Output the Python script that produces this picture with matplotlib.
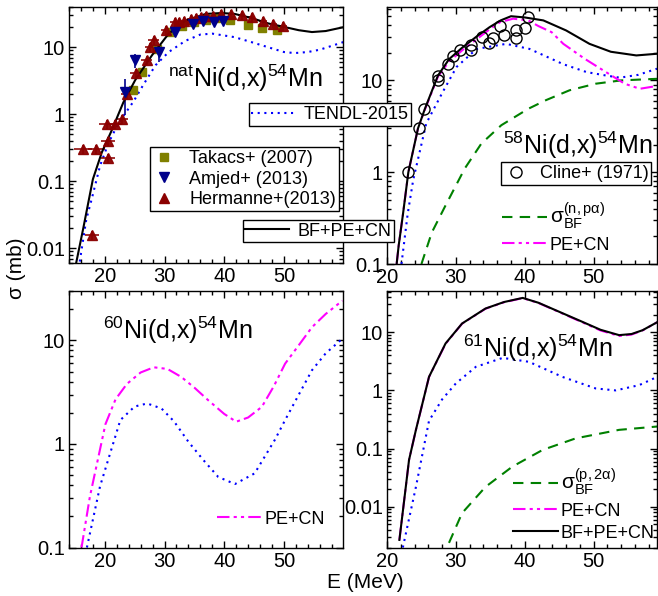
import matplotlib
matplotlib.use("Agg")
import matplotlib.pyplot as plt
from matplotlib.lines import Line2D
from matplotlib.ticker import LogLocator, MultipleLocator, FuncFormatter, NullFormatter

plt.rcParams['font.family'] = ['Liberation Sans', 'DejaVu Sans']
plt.rcParams['mathtext.fontset'] = 'custom'
plt.rcParams['mathtext.rm'] = 'Liberation Sans'
plt.rcParams['mathtext.it'] = 'Liberation Sans:italic'
plt.rcParams['mathtext.bf'] = 'Liberation Sans:bold'

# ---------------- data: natNi(d,x)54Mn ----------------
nat_bf_E = [15.2, 16.4, 18.0, 19.5, 21.1, 23.1, 25.1, 27.9, 30.7, 33.5, 36.9, 39.5, 41.7, 44.5, 47.4, 50.2, 52.5, 54.7, 57.0, 60.0]
nat_bf_y = [0.006, 0.02, 0.107, 0.27, 0.56, 1.5, 3.25, 7.6, 16, 25, 31.5, 32.5, 31.6, 27.5, 22.7, 20, 18, 16.9, 17.5, 20]
nat_tendl_E = [15.8, 16.9, 17.8, 19.2, 20.6, 22.3, 24.8, 26.5, 28.5, 30.7, 33.5, 36.0, 38.0, 41.7, 44.5, 47.4, 50.0, 51.8, 54.0, 56.0, 58.0, 60.0]
nat_tendl_y = [0.0063, 0.027, 0.054, 0.17, 0.37, 0.74, 1.55, 2.8, 5.4, 8.5, 12.5, 15.5, 16, 14.2, 12, 10, 8.5, 8.2, 8.5, 9.2, 10.5, 12]

takacs_E = [24.8, 26.3, 28.7, 31.0, 33.0, 35.0, 37.0, 39.0, 41.0, 44.0, 46.3, 48.8]
takacs_y = [2.3, 4.3, 9.5, 17, 21, 24, 26, 27, 25.5, 21.2, 19.3, 17.9]

amjed_E = [23.4, 25.1, 29.0, 31.8, 34.7, 36.5, 38.3, 39.8]
amjed_y = [2.18, 6.4, 8.5, 16.9, 22.6, 25, 23.7, 25]
amjed_dy = [1.2, 1.5, 2.5, 1.5, 2.0, 2.0, 2.0, 2.0]

herm_E = [16.4, 18.6, 17.8, 20.5, 20.5, 20.3, 21.7, 22.8, 23.7, 25.3, 27.0, 27.6, 28.2, 30.2, 31.8, 32.5, 33.3, 34.5, 35.2, 36.1, 37.0, 38.2, 39.5, 41.2, 42.9, 44.6, 46.5, 48.2, 49.9]
herm_y = [0.30, 0.30, 0.0155, 0.22, 0.40, 0.72, 0.72, 0.85, 2.0, 4.1, 6.4, 10.0, 12.7, 17.9, 23.7, 24, 25, 26.5, 27, 28, 29, 29.5, 31, 31.5, 30.5, 28, 25, 22.5, 20.7]
herm_dE = [1.5, 1.5, 1.2, 1.2, 1.2, 1.2, 1.2, 1.0, 1.0, 1.0, 0.9, 0.9, 0.9, 0.8, 0.8, 0.8, 0.8, 0.7, 0.7, 0.7, 0.7, 0.7, 0.7, 0.6, 0.6, 0.6, 0.6, 0.6, 0.6]

# ---------------- data: 58Ni(d,x)54Mn ----------------
n58_bf_E = [21.4, 21.7, 22.3, 23.1, 24.5, 25.5, 27.4, 29.0, 31.0, 33.0, 34.9, 36.5, 38.0, 40.0, 42.7, 46.0, 49.4, 52.5, 56.2, 59.2]
n58_bf_y = [0.1, 0.16, 0.34, 1.0, 3.0, 4.9, 11.3, 17, 23, 30, 38, 45, 50, 48.5, 45, 35, 25, 20.5, 18.7, 19.5]
n58_pe_E = [21.4, 21.7, 22.3, 23.1, 24.5, 25.5, 27.4, 29.0, 31.0, 33.0, 34.9, 36.4, 38.3, 40.5, 42.0, 43.9, 45.6, 48.7, 51.8, 54.5, 56.7, 59.2]
n58_pe_y = [0.1, 0.16, 0.34, 1.0, 3.0, 4.8, 11.0, 16, 21.5, 28, 36, 43, 47, 45, 39, 33.5, 25, 17.2, 12.3, 9.2, 8.1, 8.7]
n58_tendl_E = [22.1, 23.0, 23.8, 25.7, 28.1, 30.1, 33.0, 37.3, 40.7, 45.6, 49.0, 51.8, 53.8, 56.5, 59.2]
n58_tendl_y = [0.1, 0.35, 0.82, 3.4, 7.5, 14, 22, 25, 22, 15, 12.3, 11.3, 10.7, 11.5, 13.4]
n58_npa_E = [25.0, 26.5, 28.4, 31.3, 33.7, 36.6, 40.5, 43.1, 46.5, 50.3, 54.0, 59.2]
n58_npa_y = [0.1, 0.22, 0.42, 1.1, 2.05, 3.25, 4.9, 6.1, 7.8, 9.2, 10.0, 10.4]
cline_E = [23.1, 24.7, 25.4, 27.4, 27.4, 28.9, 29.6, 30.6, 32.2, 32.2, 33.8, 34.8, 35.4, 36.4, 37.0, 38.7, 38.7, 40.1, 40.4]
cline_y = [1.0, 3.0, 4.9, 11.3, 10.0, 15.2, 18.4, 21.2, 24.5, 21.2, 29.6, 25.6, 28.8, 39.6, 31.6, 35, 28.8, 37, 48.8]

# ---------------- data: 60Ni(d,x)54Mn ----------------
n60_pe_E = [16.1, 17.5, 20.1, 21.8, 23.7, 26.0, 28.2, 30.5, 32.8, 35.0, 37.3, 40.0, 42.0, 44.0, 46.3, 48.3, 50.2, 52.5, 54.7, 57.0, 59.8]
n60_pe_y = [0.1, 0.31, 1.55, 2.7, 3.8, 4.9, 5.5, 5.3, 4.44, 3.5, 2.65, 1.95, 1.64, 1.8, 2.28, 3.6, 5.96, 9.0, 13.4, 18, 24.2]
n60_tendl_E = [17.0, 19.2, 22.6, 25.0, 27.1, 29.5, 31.6, 34.0, 36.5, 39.0, 41.8, 45.1, 48.5, 50.2, 52.5, 54.7, 57.0, 59.8]
n60_tendl_y = [0.1, 0.39, 1.7, 2.3, 2.46, 2.2, 1.65, 1.05, 0.7, 0.48, 0.41, 0.52, 1.1, 1.7, 3.0, 5.15, 7.5, 10.4]

# ---------------- data: 61Ni(d,x)54Mn ----------------
n61_bf_E = [21.8, 23.2, 24.2, 26.1, 28.5, 30.9, 34.3, 37.0, 39.7, 42.0, 44.5, 48.4, 51.0, 53.7, 55.5, 57.1, 59.3]
n61_bf_y = [0.0027, 0.064, 0.21, 1.71, 6.4, 14.1, 25.5, 33, 38.8, 32, 23.8, 15, 11, 8.9, 9.3, 10.8, 15]
n61_pe_E = [21.8, 23.2, 24.2, 26.1, 28.5, 30.9, 34.3, 37.0, 39.7, 42.0, 44.5, 48.4, 51.0, 53.7, 55.5, 57.1, 59.3]
n61_pe_y = [0.0027, 0.064, 0.21, 1.7, 6.3, 14.0, 25.3, 32.7, 38.5, 31.7, 23.5, 14.7, 10.7, 8.6, 9.1, 10.7, 15]
n61_tendl_E = [22.3, 24.2, 26.1, 28.0, 30.0, 32.9, 36.8, 40.6, 45.5, 50.3, 53.2, 56.6, 59.2]
n61_tendl_y = [0.002, 0.022, 0.3, 0.7, 1.32, 2.54, 3.62, 3.1, 1.7, 1.08, 1.0, 1.23, 1.7]
n61_p2a_E = [29.0, 30.9, 34.3, 38.2, 42.6, 47.4, 53.7, 59.3]
n61_p2a_y = [0.0024, 0.0078, 0.022, 0.049, 0.095, 0.15, 0.21, 0.24]

# ---------------- styles ----------------
C_BLUE = '#0000ff'
C_MAG = '#ff00ff'
C_GREEN = '#008000'
DDOT = (0, (6, 2, 1.5, 2, 1.5, 2))
DOT = (0, (1, 2.2))
DASH = (0, (5, 3.5))
LW = 1.5

W, H = 658, 596
fig = plt.figure(figsize=(W / 100, H / 100), dpi=100)


def px_axes(l, t, r, b):
    return fig.add_axes([l / W, 1 - b / H, (r - l) / W, (b - t) / H])


ax_tl = px_axes(69, 7, 343, 263)
ax_tr = px_axes(387, 7, 657, 264)
ax_bl = px_axes(69, 291, 343, 547.5)
ax_br = px_axes(387, 291, 657, 547.5)


def fmt(v, pos):
    return '%g' % v


def style(ax, xlim, ylim):
    ax.set_yscale('log')
    ax.set_xlim(*xlim)
    ax.set_ylim(*ylim)
    ax.xaxis.set_major_locator(MultipleLocator(10))
    ax.xaxis.set_minor_locator(MultipleLocator(2))
    ax.yaxis.set_major_locator(LogLocator(base=10, numticks=20))
    ax.yaxis.set_minor_locator(LogLocator(base=10, subs=range(2, 10), numticks=20))
    ax.yaxis.set_major_formatter(FuncFormatter(fmt))
    ax.yaxis.set_minor_formatter(NullFormatter())
    ax.tick_params(which='both', direction='in', top=True, right=True, labelsize=14.5, pad=3, width=1)
    ax.tick_params(which='major', length=5)
    ax.tick_params(which='minor', length=3)
    for s in ax.spines.values():
        s.set_linewidth(1.0)


style(ax_tl, (14, 59.9), (0.006, 40))
style(ax_tr, (20, 59.2), (0.1, 63))
style(ax_bl, (14, 59.9), (0.1, 30))
style(ax_br, (20, 59.2), (0.002, 51))

TFS = 18

# ---- top-left ----
ax = ax_tl
ax.plot(nat_tendl_E, nat_tendl_y, ls=DOT, color=C_BLUE, lw=LW)
ax.errorbar(herm_E, herm_y, xerr=herm_dE, yerr=[[v * 0.15 for v in herm_y], [v * 0.15 for v in herm_y]],
            fmt='^', color='#8b0000', ms=7.5, elinewidth=1.2, capsize=0, alpha=0.95)
ax.errorbar(amjed_E, amjed_y, yerr=amjed_dy, fmt='v', color='#00008b', ms=7.5, elinewidth=1.2, capsize=0)
ax.plot(takacs_E, takacs_y, 's', color='#808000', ms=6)
ax.plot(nat_bf_E, nat_bf_y, '-', color='black', lw=LW)
ax.text(0.36, 0.72, r'$^{\mathrm{nat}}$Ni(d,x)$^{54}$Mn', transform=ax.transAxes, fontsize=TFS, va='center', ha='left')

# ---- top-right ----
ax = ax_tr
ax.plot(n58_npa_E, n58_npa_y, ls=DASH, color=C_GREEN, lw=LW)
ax.plot(n58_tendl_E, n58_tendl_y, ls=DOT, color=C_BLUE, lw=LW)
ax.plot(n58_pe_E, n58_pe_y, ls=DDOT, color=C_MAG, lw=LW)
ax.plot(n58_bf_E, n58_bf_y, '-', color='black', lw=LW)
ax.plot(cline_E, cline_y, 'o', mfc='none', mec='black', ms=8, mew=1.0)
ax.text(0.428, 0.46, r'$^{58}$Ni(d,x)$^{54}$Mn', transform=ax.transAxes, fontsize=TFS, va='center', ha='left')

# ---- bottom-left ----
ax = ax_bl
ax.plot(n60_tendl_E, n60_tendl_y, ls=DOT, color=C_BLUE, lw=LW)
ax.plot(n60_pe_E, n60_pe_y, ls=DDOT, color=C_MAG, lw=LW)
ax.text(0.125, 0.845, r'$^{60}$Ni(d,x)$^{54}$Mn', transform=ax.transAxes, fontsize=TFS, va='center', ha='left')

# ---- bottom-right ----
ax = ax_br
ax.plot(n61_p2a_E, n61_p2a_y, ls=DASH, color=C_GREEN, lw=LW)
ax.plot(n61_tendl_E, n61_tendl_y, ls=DOT, color=C_BLUE, lw=LW)
ax.plot(n61_pe_E, n61_pe_y, ls=DDOT, color=C_MAG, lw=LW)
ax.plot(n61_bf_E, n61_bf_y, '-', color='black', lw=LW)
ax.text(0.28, 0.775, r'$^{61}$Ni(d,x)$^{54}$Mn', transform=ax.transAxes, fontsize=TFS, va='center', ha='left')

# ---------------- legends ----------------
h_tendl = Line2D([], [], ls=DOT, color=C_BLUE, lw=LW)
h_bf = Line2D([], [], ls='-', color='black', lw=LW)
h_pe = Line2D([], [], ls=DDOT, color=C_MAG, lw=LW)
h_gr = Line2D([], [], ls=DASH, color=C_GREEN, lw=LW)
h_tak = Line2D([], [], ls='none', marker='s', color='#808000', ms=6)
h_amj = Line2D([], [], ls='none', marker='v', color='#00008b', ms=7.5)
h_her = Line2D([], [], ls='none', marker='^', color='#8b0000', ms=7.5)
h_cli = Line2D([], [], ls='none', marker='o', mfc='none', mec='black', ms=8)

LFS = 13


def boxed(handles, labels, cx, cy, **kw):
    leg = fig.legend(handles, labels, loc='center', bbox_to_anchor=(cx / W, 1 - cy / H),
                     bbox_transform=fig.transFigure, fontsize=LFS, fancybox=False, framealpha=1,
                     edgecolor='black', borderpad=0.15, borderaxespad=0, **kw)
    leg.get_frame().set_linewidth(1.0)
    return leg


boxed([h_tendl], ['TENDL-2015'], 330, 114.5, handlelength=2.4, handletextpad=0.5)
boxed([h_tak, h_amj, h_her], ['Takacs+ (2007)', 'Amjed+ (2013)', 'Hermanne+(2013)'], 244.5, 179,
      handlelength=1.2, labelspacing=0.2, handletextpad=0.8)
boxed([h_bf], ['BF+PE+CN'], 318.5, 231, handlelength=2.4, handletextpad=0.5)
boxed([h_cli], ['Cline+ (1971)'], 576, 173.5, handlelength=1.4, handletextpad=0.6)

sig_npa = r'$\mathrm{σ}_{\mathrm{BF}}^{(\mathrm{n,p}\mathrm{α})}$'
sig_p2a = r'$\mathrm{σ}_{\mathrm{BF}}^{(\mathrm{p,2}\mathrm{α})}$'


def free(handle, label, x, yline, fs=LFS):
    leg = fig.legend([handle], [label], loc='center left', bbox_to_anchor=(x / W, 1 - yline / H),
                     bbox_transform=fig.transFigure, fontsize=LFS, frameon=False, borderpad=0,
                     borderaxespad=0, handlelength=2.5, handletextpad=0.15)
    leg.get_texts()[0].set_fontsize(fs)
    return leg


free(h_gr, sig_npa, 502, 216, fs=15)
free(h_pe, 'PE+CN', 502, 245)
free(h_pe, 'PE+CN', 217, 519)
free(h_gr, sig_p2a, 513, 482, fs=15)
free(h_pe, 'PE+CN', 513, 511)
free(h_bf, 'BF+PE+CN', 513, 533)

fig.text(16.5 / W, 1 - 268.5 / H, 'σ (mb)', rotation=90, fontsize=15, ha='center', va='center')
fig.text(365 / W, 1 - 582 / H, 'E (MeV)', fontsize=15, ha='center', va='center')

fig.savefig('out.png', dpi=100)
